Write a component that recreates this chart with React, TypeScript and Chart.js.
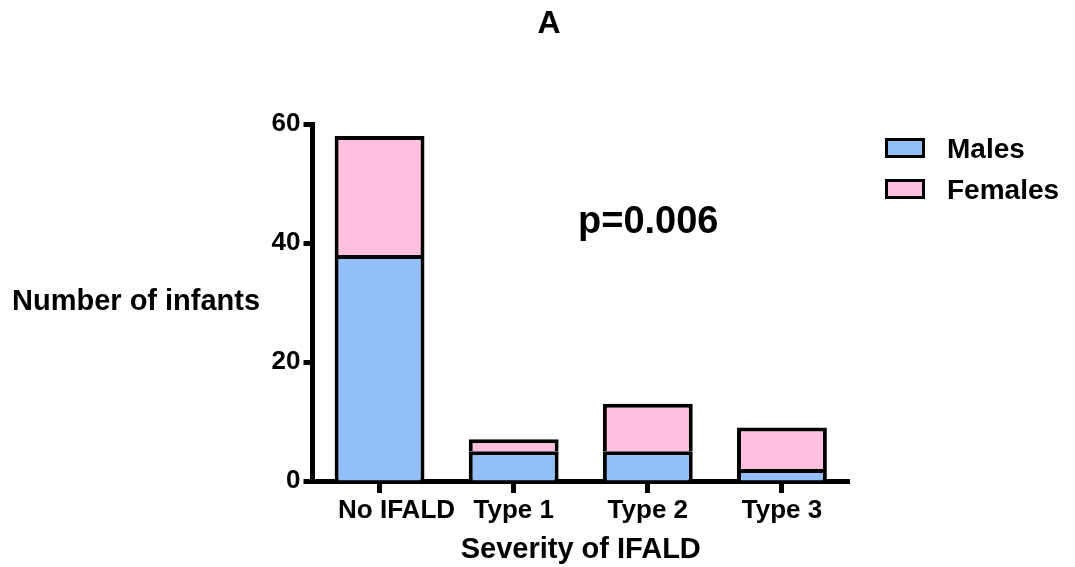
import React, { useEffect, useRef } from "react";
import { Chart, registerables } from "chart.js";

Chart.register(...registerables);

const categories = ["No IFALD", "Type 1", "Type 2", "Type 3"];
const seriesNames = ["Males", "Females"];
const males = [38, 5, 5, 2];
const females = [20, 2, 8, 7];
const yTickValues = [0, 20, 40, 60];
const chartTitle = "A";
const yTitle = "Number of infants";
const xTitle = "Severity of IFALD";
const annotation = "p=0.006";

const FONT = "'Liberation Sans', Arial, Helvetica, sans-serif";
const BLUE = "#92BFF8";
const PINK = "#FFBFDF";

const overlayPlugin = {
  id: "overlayText",
  afterDraw(chart: any) {
    const ctx = chart.ctx;
    ctx.save();
    ctx.fillStyle = "#000";
    ctx.textBaseline = "alphabetic";

    ctx.font = `bold 32px ${FONT}`;
    ctx.textAlign = "center";
    ctx.fillText(chartTitle, 549, 33);

    // category labels under the x axis (the first one sits a little to the right, as in the original)
    const xs = chart.scales.x;
    ctx.font = `bold 26px ${FONT}`;
    chart.data.labels.forEach((lab: string, i: number) => {
      const px = xs.getPixelForTick(i) + (i === 0 ? 17 : 0);
      ctx.fillText(lab, px, 518);
    });

    ctx.textAlign = "left";
    ctx.font = `bold 29px ${FONT}`;
    ctx.fillText(yTitle, 12, 310);

    ctx.font = `bold 38px ${FONT}`;
    ctx.fillText(annotation, 578, 233);

    chart.data.datasets.forEach((ds: any, i: number) => {
      const y = 138 + i * 41;
      ctx.fillStyle = ds.backgroundColor;
      ctx.fillRect(886.5, y + 1.5, 37, 17);
      ctx.lineWidth = 3;
      ctx.strokeStyle = "#000";
      ctx.strokeRect(886.5, y + 1.5, 37, 17);
      ctx.fillStyle = "#000";
      ctx.font = `bold 28px ${FONT}`;
      ctx.fillText(ds.label, 947, y + 20);
    });
    ctx.restore();
  },
};

export default function App() {
  const ref = useRef<HTMLCanvasElement | null>(null);

  useEffect(() => {
    if (!ref.current) return;
    const axisGrid = {
      display: true,
      drawOnChartArea: false,
      drawTicks: true,
      tickLength: 9,
      tickWidth: 5,
      tickColor: "#000",
    };
    const axisBorder = { display: true, color: "#000", width: 5 };
    const tickFont = { family: FONT, size: 26, weight: "bold" as const };

    const chart = new Chart(ref.current, {
      type: "bar",
      data: {
        labels: categories,
        datasets: [
          {
            label: seriesNames[0],
            data: males,
            backgroundColor: BLUE,
            borderColor: "#000",
            borderWidth: 4,
            borderSkipped: "bottom",
          },
          {
            label: seriesNames[1],
            data: females,
            backgroundColor: PINK,
            borderColor: "#000",
            borderWidth: 4,
            borderSkipped: "bottom",
          },
        ],
      },
      options: {
        responsive: false,
        animation: false,
        layout: { padding: { top: 124, right: 226, left: 0, bottom: 0 } },
        datasets: { bar: { categoryPercentage: 1, barPercentage: 0.67 } },
        plugins: {
          legend: { display: false },
          title: { display: false },
          tooltip: { enabled: false },
        },
        scales: {
          x: {
            stacked: true,
            grid: { ...axisGrid, tickLength: 12, offset: false },
            border: axisBorder,
            ticks: { display: false },
            title: {
              display: true,
              text: xTitle,
              color: "#000",
              font: { family: FONT, size: 29, weight: "bold" },
              padding: { top: 0, bottom: 0 },
            },
            afterFit: (s: any) => {
              s.height = 86;
            },
          },
          y: {
            stacked: true,
            min: 0,
            max: 60,
            afterBuildTicks: (s: any) => {
              s.ticks = yTickValues.map((v) => ({ value: v }));
            },
            grid: axisGrid,
            border: axisBorder,
            ticks: { color: "#000", font: tickFont, padding: 3 },
            afterFit: (s: any) => {
              s.width = 312.5;
            },
          },
        },
      },
      plugins: [overlayPlugin],
    });
    return () => chart.destroy();
  }, []);

  return (
    <div style={{ position: "fixed", left: 0, top: 0, width: 1075, height: 567, background: "#fff" }}>
      <canvas ref={ref} width={1075} height={567} style={{ width: 1075, height: 567, display: "block" }} />
    </div>
  );
}
